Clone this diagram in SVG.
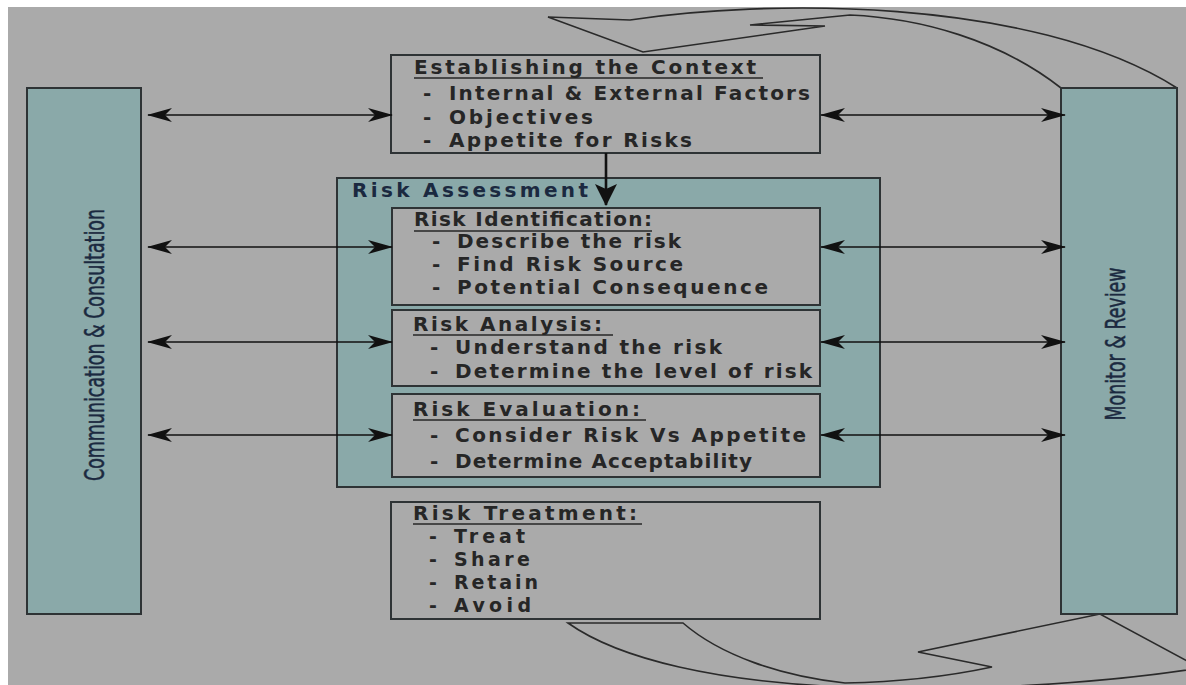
<svg xmlns="http://www.w3.org/2000/svg" width="1186" height="685" viewBox="0 0 1186 685">
<defs>
<style>
.bg{fill:#aaaaaa}
.side{fill:#8aa9a9;stroke:#2e3335;stroke-width:2}
.box{fill:#aaaaaa;stroke:#2e3335;stroke-width:2}
.t{font-family:"DejaVu Sans",sans-serif;font-weight:bold;font-size:20px;fill:#262626}
.s{font-size:19px}
.nav{font-family:"DejaVu Sans",sans-serif;font-weight:bold;font-size:20px;fill:#1b2940}
.vl{font-family:"DejaVu Sans Condensed","DejaVu Sans",sans-serif;font-size:27px;fill:#1b2940;stroke:#1b2940;stroke-width:0.5}
.ul{stroke:#262626;stroke-width:1.6}
.con{stroke:#111;stroke-width:1.6;fill:none}
.swirl{fill:none;stroke:#2a2a2a;stroke-width:1.6;stroke-linejoin:miter}
</style>
<marker id="ah" markerUnits="userSpaceOnUse" markerWidth="26" markerHeight="16" refX="24" refY="7" orient="auto-start-reverse" viewBox="0 0 26 14">
<path d="M0,0 L25,7 L0,14 L7,7 Z" fill="#111"/>
</marker>
<marker id="ahd" markerUnits="userSpaceOnUse" markerWidth="24" markerHeight="24" refX="21" refY="11" orient="auto" viewBox="0 0 24 22">
<path d="M0,0 L22,11 L0,22 L5,11 Z" fill="#111"/>
</marker>
</defs>
<rect x="0" y="0" width="1186" height="685" fill="#ffffff"/>
<rect class="bg" x="8" y="7" width="1178" height="678"/>

<g id="cycle-arrows">
<path class="swirl" d="M1061,88 C1000,40 920,18 850,15 L750,25 L825,26 L643,52 L548,17 L630,20 C760,0 1030,-5 1177,88"/>
<path class="swirl" d="M568,623 L683,623 C720,655 780,676 845,683 C900,682 950,676 992,667 L918,652 L1100,614 L1200,668 C1100,684 960,692 845,687 C720,682 620,660 568,623 Z"/>
</g>

<g id="communication">
<rect class="side" x="27" y="88" width="114" height="526"/>
<text class="vl" transform="translate(104,345) rotate(-90)" text-anchor="middle" textLength="272" lengthAdjust="spacingAndGlyphs">Communication &amp; Consultation</text>
</g>

<g id="monitor">
<rect class="side" x="1061" y="88" width="116" height="526"/>
<text class="vl" transform="translate(1125,344) rotate(-90)" text-anchor="middle" textLength="153" lengthAdjust="spacingAndGlyphs">Monitor &amp; Review</text>
</g>

<g id="context">
<rect class="box" x="391" y="55" width="429" height="98"/>
<text class="t" x="414" y="74" textLength="342" lengthAdjust="spacing">Establishing the Context</text>
<line class="ul" x1="414" y1="78" x2="763" y2="78"/>
<text class="t" x="423" y="100">-</text>
<text class="t" x="449" y="100" textLength="361" lengthAdjust="spacing">Internal &amp; External Factors</text>
<text class="t" x="423" y="124">-</text>
<text class="t" x="449" y="124" textLength="144" lengthAdjust="spacing">Objectives</text>
<text class="t" x="423" y="147">-</text>
<text class="t" x="449" y="147" textLength="243" lengthAdjust="spacing">Appetite for Risks</text>
</g>

<g id="risk-assessment">
<rect class="side" x="337" y="178" width="543" height="309"/>
<text class="nav" x="352" y="197" textLength="236" lengthAdjust="spacing">Risk Assessment</text>
</g>

<g id="risk-identification">
<rect class="box" x="392" y="208" width="428" height="97"/>
<text class="t" x="414" y="226" textLength="238" lengthAdjust="spacing">Risk Identification:</text>
<line class="ul" x1="414" y1="231" x2="652" y2="231"/>
<text class="t" x="432" y="248">-</text>
<text class="t" x="457" y="248" textLength="224" lengthAdjust="spacing">Describe the risk</text>
<text class="t" x="432" y="271">-</text>
<text class="t" x="457" y="271" textLength="226" lengthAdjust="spacing">Find Risk Source</text>
<text class="t" x="432" y="294">-</text>
<text class="t" x="457" y="294" textLength="311" lengthAdjust="spacing">Potential Consequence</text>
</g>

<g id="risk-analysis">
<rect class="box" x="392" y="310" width="428" height="76"/>
<text class="t" x="413" y="331" textLength="189" lengthAdjust="spacing">Risk Analysis:</text>
<line class="ul" x1="413" y1="335" x2="613" y2="335"/>
<text class="t" x="430" y="354">-</text>
<text class="t" x="455" y="354" textLength="267" lengthAdjust="spacing">Understand the risk</text>
<text class="t" x="430" y="378">-</text>
<text class="t" x="455" y="378" textLength="357" lengthAdjust="spacing">Determine the level of risk</text>
</g>

<g id="risk-evaluation">
<rect class="box" x="392" y="394" width="428" height="83"/>
<text class="t" x="413" y="416" textLength="227" lengthAdjust="spacing">Risk Evaluation:</text>
<line class="ul" x1="413" y1="420" x2="646" y2="420"/>
<text class="t" x="430" y="442">-</text>
<text class="t" x="455" y="442" textLength="351" lengthAdjust="spacing">Consider Risk Vs Appetite</text>
<text class="t" x="430" y="468">-</text>
<text class="t" x="455" y="468" textLength="297" lengthAdjust="spacing">Determine Acceptability</text>
</g>

<g id="risk-treatment">
<rect class="box" x="391" y="502" width="429" height="117"/>
<text class="t" x="413" y="520" textLength="224" lengthAdjust="spacing">Risk Treatment:</text>
<line class="ul" x1="413" y1="524" x2="642" y2="524"/>
<text class="t s" x="429" y="543">-</text>
<text class="t s" x="454" y="543" textLength="71" lengthAdjust="spacing">Treat</text>
<text class="t s" x="429" y="566">-</text>
<text class="t s" x="454" y="566" textLength="76" lengthAdjust="spacing">Share</text>
<text class="t s" x="429" y="589">-</text>
<text class="t s" x="454" y="589" textLength="84" lengthAdjust="spacing">Retain</text>
<text class="t s" x="429" y="612">-</text>
<text class="t s" x="454" y="612" textLength="77" lengthAdjust="spacing">Avoid</text>
</g>

<g id="connectors">
<line class="con" x1="148" y1="115" x2="392" y2="115" marker-start="url(#ah)" marker-end="url(#ah)"/>
<line class="con" x1="148" y1="247" x2="392" y2="247" marker-start="url(#ah)" marker-end="url(#ah)"/>
<line class="con" x1="148" y1="342" x2="392" y2="342" marker-start="url(#ah)" marker-end="url(#ah)"/>
<line class="con" x1="148" y1="435" x2="392" y2="435" marker-start="url(#ah)" marker-end="url(#ah)"/>
<line class="con" x1="821" y1="115" x2="1065" y2="115" marker-start="url(#ah)" marker-end="url(#ah)"/>
<line class="con" x1="821" y1="247" x2="1065" y2="247" marker-start="url(#ah)" marker-end="url(#ah)"/>
<line class="con" x1="821" y1="342" x2="1065" y2="342" marker-start="url(#ah)" marker-end="url(#ah)"/>
<line class="con" x1="821" y1="435" x2="1065" y2="435" marker-start="url(#ah)" marker-end="url(#ah)"/>
<line x1="606" y1="153" x2="606" y2="205" stroke="#111" stroke-width="2.6" marker-end="url(#ahd)"/>
</g>
</svg>
